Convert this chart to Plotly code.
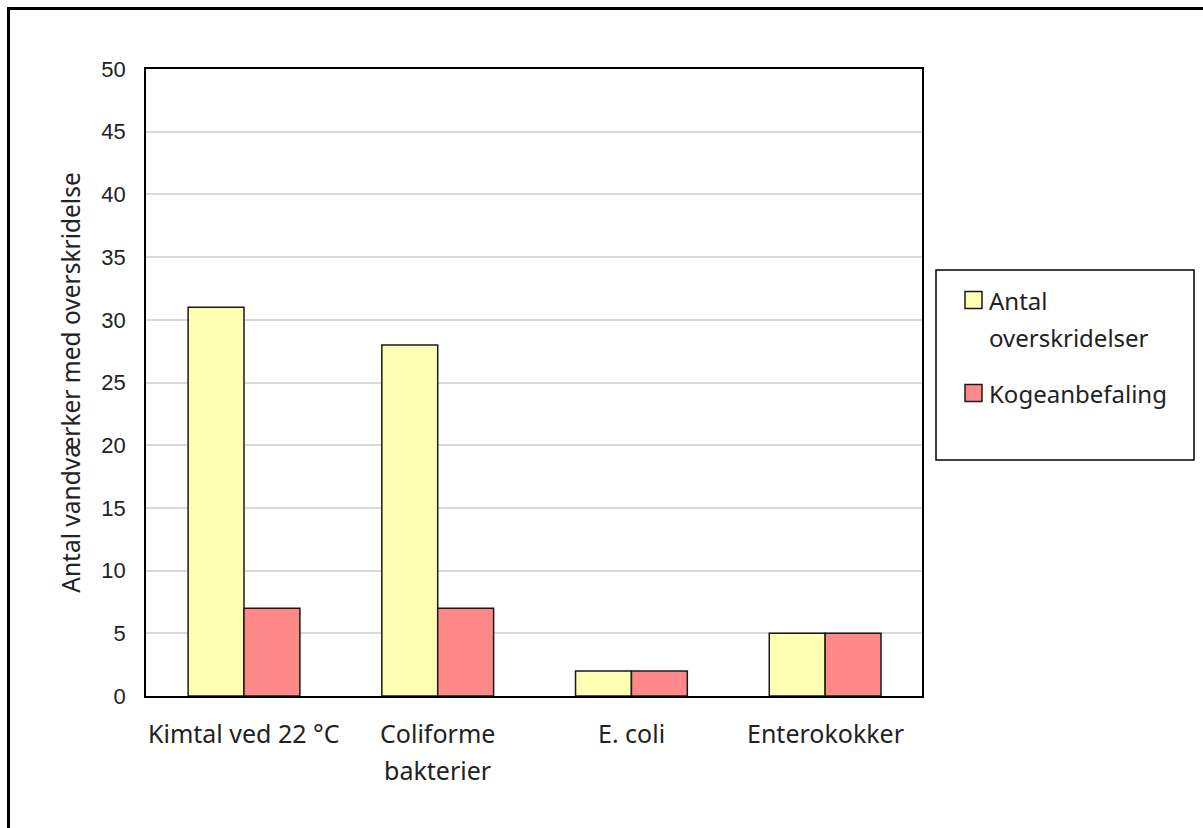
import plotly.graph_objects as go

categories = ["Kimtal ved 22 °C", "Coliforme bakterier", "E. coli", "Enterokokker"]
category_lines = [["Kimtal ved 22 °C"], ["Coliforme", "bakterier"], ["E. coli"], ["Enterokokker"]]
antal_overskridelser = [31, 28, 2, 5]
kogeanbefaling = [7, 7, 2, 5]
y_ticks = [0, 5, 10, 15, 20, 25, 30, 35, 40, 45, 50]

series_names = ["Antal overskridelser", "Kogeanbefaling"]
series_lines = [["Antal", "overskridelser"], ["Kogeanbefaling"]]
series_colors = ["#FFFFB3", "#FF8888"]

label_font = "Noto Sans, Open Sans, sans-serif"
tick_font = "Liberation Sans, Arial, sans-serif"
text_color = "#222"

# plot area in pixels (used to convert boxes and labels to paper coords)
L, R, T, B = 146, 922, 69, 696
W, H = R - L, B - T


def px_x(x):
    return (x - L) / W


def px_y(y):
    return (B - y) / H


fig = go.Figure()
for name, values, color in zip(series_names,
                               [antal_overskridelser, kogeanbefaling],
                               series_colors):
    fig.add_trace(go.Bar(
        x=categories, y=values, name=name,
        marker=dict(color=color, line=dict(color="#1a1a1a", width=1.5)),
        showlegend=False,
    ))

shapes = [
    # legend frame
    dict(type="rect", xref="paper", yref="paper",
         x0=px_x(936), x1=px_x(1194), y0=px_y(460), y1=px_y(270),
         line=dict(color="black", width=1.5), fillcolor="rgba(0,0,0,0)"),
    # outer frame around the chart
    dict(type="rect", xref="paper", yref="paper",
         x0=px_x(8.5), x1=2.0, y0=-1.0, y1=px_y(8.5),
         line=dict(color="black", width=3), fillcolor="rgba(0,0,0,0)"),
]
annotations = []

line_step = 37

# category labels under the axis, one annotation per text line
for cat, lines in zip(categories, category_lines):
    for i, line in enumerate(lines):
        annotations.append(dict(
            xref="x", yref="paper", x=cat, y=px_y(733 + i * line_step),
            xanchor="center", yanchor="middle", showarrow=False, text=line,
            font=dict(family=label_font, size=25, color=text_color),
        ))

# legend entries: swatch + label lines
entry_centers = [300, 393]
for lines, color, cy in zip(series_lines, series_colors, entry_centers):
    shapes.append(dict(type="rect", xref="paper", yref="paper",
                       x0=px_x(965), x1=px_x(982), y0=px_y(cy + 8.5), y1=px_y(cy - 8.5),
                       line=dict(color="#1a1a1a", width=1.5), fillcolor=color))
    for i, line in enumerate(lines):
        annotations.append(dict(
            xref="paper", yref="paper", x=px_x(987), y=px_y(cy + i * line_step),
            xanchor="left", yanchor="middle", showarrow=False, text=line,
            font=dict(family=label_font, size=24, color=text_color),
        ))

fig.update_layout(
    width=1203, height=828,
    margin=dict(l=L, r=1203 - R, t=T, b=828 - B),
    paper_bgcolor="white", plot_bgcolor="white",
    barmode="group", bargap=0.423, bargroupgap=0,
    xaxis=dict(
        showline=True, linecolor="black", linewidth=1.5, mirror=True,
        showticklabels=False, ticks="",
    ),
    yaxis=dict(
        range=[0, 50], tickvals=y_ticks,
        showline=True, linecolor="black", linewidth=1.5, mirror=True,
        showgrid=True, gridcolor="#d9d9d9", gridwidth=1.5,
        tickfont=dict(family=tick_font, size=22, color=text_color),
        ticks="", ticklabelstandoff=14,
        title=dict(text="Antal vandværker med overskridelse",
                   font=dict(family=label_font, size=24.5, color=text_color),
                   standoff=14),
        zeroline=False,
    ),
    shapes=shapes,
    annotations=annotations,
)

fig.write_html("out.html")
